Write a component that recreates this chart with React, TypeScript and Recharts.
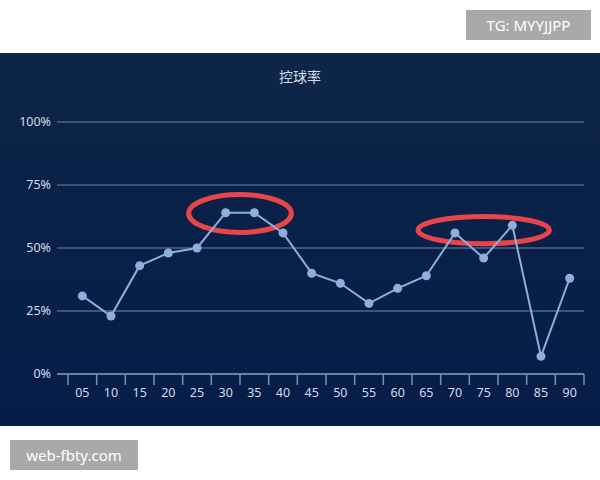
import React from "react"
import {
  LineChart,
  Line,
  XAxis,
  YAxis,
  CartesianGrid,
  ReferenceArea,
} from "recharts"

// ── Data ──────────────────────────────────────────────────────────────────────
const MINUTES = ["05", "10", "15", "20", "25", "30", "35", "40", "45", "50", "55", "60", "65", "70", "75", "80", "85", "90"]
const POSSESSION = [31, 23, 43, 48, 50, 64, 64, 56, 40, 36, 28, 34, 39, 56, 46, 59, 7, 38]
const Y_TICKS = [0, 25, 50, 75, 100]

const data = MINUTES.map((m, i) => ({ minute: m, value: POSSESSION[i] }))

// ── Styles ────────────────────────────────────────────────────────────────────
const LABEL_COLOR = "#d3dbea"
const LINE_COLOR = "#8eaedb"
const GRID_COLOR = "#4b6788"
const AXIS_COLOR = "#7d91ab"
const RING_COLOR = "#e8454b"
const FONT = "'Noto Sans', 'Noto Sans CJK SC', sans-serif"

// x tick: label at band centre, tick marks on band edges
function MinuteTick(props: any) {
  const { x, y, payload, index, visibleTicksCount } = props
  const half = payload?.offset || 14.33
  const isLast = index === visibleTicksCount - 1
  return (
    <g>
      <line x1={x - half} y1={y} x2={x - half} y2={y + 11} stroke={AXIS_COLOR} strokeWidth={1.5} />
      {isLast && (
        <line x1={x + half} y1={y} x2={x + half} y2={y + 11} stroke={AXIS_COLOR} strokeWidth={1.5} />
      )}
      <text x={x} y={y + 18} textAnchor="middle" dominantBaseline="central" fill={LABEL_COLOR} fontSize={12.5} fontFamily={FONT}>
        {payload.value}
      </text>
    </g>
  )
}

// red ring drawn inside a reference area
const ring = (inset: number) => (p: any) => (
  <ellipse
    cx={p.x + p.width / 2}
    cy={p.y + p.height / 2}
    rx={Math.abs(p.width) / 2 - inset}
    ry={Math.abs(p.height) / 2}
    fill="none"
    stroke={RING_COLOR}
    strokeWidth={5}
  />
)

export default function App() {
  return (
    <div style={{ position: "absolute", left: 0, top: 0, width: 600, height: 480, background: "#ffffff", overflow: "hidden" }}>
      <div
        style={{
          position: "absolute", left: 466, top: 10, width: 125, height: 30, background: "#a9a9a9",
          color: "#ffffff", fontFamily: FONT, fontSize: 15, lineHeight: "30px", textAlign: "center",
        }}
      >
        TG: MYYJJPP
      </div>

      <div
        style={{
          position: "absolute", left: 0, top: 53, width: 600, height: 373,
          background: "linear-gradient(180deg, #0e2646 0%, #0a2148 40%, #061d48 100%)",
        }}
      >
        <div
          style={{
            position: "absolute", left: 0, top: 13, width: 600, textAlign: "center",
            color: LABEL_COLOR, fontFamily: "'Noto Sans CJK SC', sans-serif", fontSize: 14, lineHeight: "20px",
          }}
        >
          控球率
        </div>
        <LineChart width={600} height={373} data={data} margin={{ top: 69, right: 16, left: 0, bottom: 22 }}>
          <CartesianGrid vertical={false} stroke={GRID_COLOR} strokeWidth={1.5} />
          <XAxis
            dataKey="minute"
            scale="band"
            height={30}
            padding={{ left: 11, right: 0 }}
            axisLine={{ stroke: AXIS_COLOR, strokeWidth: 1.5 }}
            tickLine={false}
            tickSize={0}
            tickMargin={0}
            interval={0}
            tick={<MinuteTick />}
          />
          <YAxis
            width={57}
            domain={[0, 100]}
            ticks={Y_TICKS}
            tickFormatter={(v) => `${v}%`}
            axisLine={false}
            tickLine={false}
            tickSize={4}
            tickMargin={2}
            tick={{ fill: LABEL_COLOR, fontSize: 12.5, fontFamily: FONT }}
          />
          <Line
            type="linear"
            dataKey="value"
            stroke={LINE_COLOR}
            strokeWidth={2}
            dot={{ r: 4.5, fill: LINE_COLOR, stroke: "none" }}
            activeDot={false}
            isAnimationActive={false}
          />
          <ReferenceArea x1="25" x2="40" y1={56.2} y2={71.2} shape={ring(6)} />
          <ReferenceArea x1="65" x2="85" y1={51.7} y2={62.5} shape={ring(6)} />
        </LineChart>
      </div>

      <div
        style={{
          position: "absolute", left: 10, top: 440, width: 128, height: 30, background: "#a9a9a9",
          color: "#ffffff", fontFamily: FONT, fontSize: 15, lineHeight: "30px", textAlign: "center",
        }}
      >
        web-fbty.com
      </div>
    </div>
  )
}
